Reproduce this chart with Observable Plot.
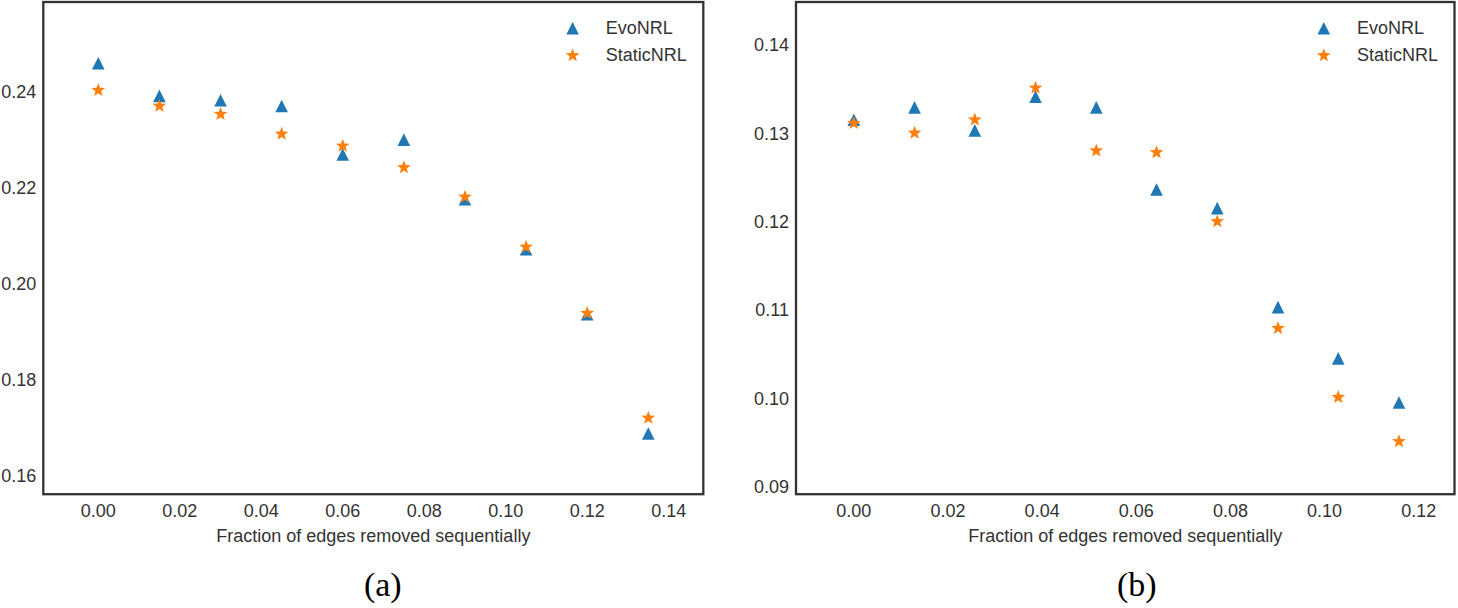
<!DOCTYPE html>
<html>
<head>
<meta charset="utf-8">
<script src="https://cdn.jsdelivr.net/npm/d3@7"></script>
<script src="https://cdn.jsdelivr.net/npm/@observablehq/plot@0.6"></script>
<style>
  html, body { margin: 0; padding: 0; background: #fff; }
  #wrap { position: relative; width: 1458px; height: 608px; overflow: hidden; }
  #wrap > div { position: absolute; top: 0; }
  svg { display: block; }
</style>
</head>
<body>
<div id="wrap"><div id="pa"></div><div id="pb"></div></div>
<script>
// ---- data ----
const seriesNames = ["EvoNRL", "StaticNRL"];
const seriesColors = ["#1f77b4", "#ff7f0e"];
const xLabel = "Fraction of edges removed sequentially";

// panel (a)
const xA = [0, 0.015, 0.03, 0.045, 0.06, 0.075, 0.09, 0.105, 0.12, 0.135];
const evoA = [0.2460, 0.2392, 0.2383, 0.2371, 0.2270, 0.2301, 0.2177, 0.2073, 0.1938, 0.1690];
const staticA = [0.2404, 0.2371, 0.2354, 0.2313, 0.2288, 0.2243, 0.2182, 0.2078, 0.1940, 0.1722];
const xTicksA = [0, 0.02, 0.04, 0.06, 0.08, 0.10, 0.12, 0.14];
const yTicksA = [0.16, 0.18, 0.20, 0.22, 0.24];

// panel (b)
const xB = [0, 0.0129, 0.0257, 0.0386, 0.0515, 0.0643, 0.0772, 0.0901, 0.1029, 0.1158];
const evoB = [0.1316, 0.1330, 0.1304, 0.1342, 0.1330, 0.1237, 0.1216, 0.1104, 0.1046, 0.0996];
const staticB = [0.1312, 0.1301, 0.1316, 0.1352, 0.1281, 0.1279, 0.1201, 0.1080, 0.1002, 0.0952];
const xTicksB = [0, 0.02, 0.04, 0.06, 0.08, 0.10, 0.12];
const yTicksB = [0.09, 0.10, 0.11, 0.12, 0.13, 0.14];

// ---- matplotlib-like marker shapes ----
const triangleUp = {
  draw(ctx, size) {
    const h = Math.sqrt(size / Math.PI);
    ctx.moveTo(0, -h); ctx.lineTo(-h, h); ctx.lineTo(h, h); ctx.closePath();
  }
};
const star5 = {
  draw(ctx, size) {
    const R = Math.sqrt(size / Math.PI), r = R * 0.42;
    for (let i = 0; i < 10; i++) {
      const a = -Math.PI / 2 + i * Math.PI / 5;
      const rr = i % 2 ? r : R;
      const px = rr * Math.cos(a), py = rr * Math.sin(a);
      if (i === 0) ctx.moveTo(px, py); else ctx.lineTo(px, py);
    }
    ctx.closePath();
  }
};
const symbols = [triangleUp, star5];
const radii = [6.3, 7.2];

const TEXT = "#333";
const FONT = "'Liberation Sans', Arial, sans-serif";

function panel(xs, evo, stat, cfg) {
  const rows = [evo, stat].map((vals, s) => xs.map((x, i) => ({x, y: vals[i], s})));
  const marks = [];
  rows.forEach((r, s) => marks.push(Plot.dot(r, {x: "x", y: "y", symbol: symbols[s], r: radii[s], fill: seriesColors[s], stroke: null})));
  // legend
  seriesNames.forEach((name, s) => {
    const dy = cfg.legendDy[s];
    marks.push(Plot.dot([name], {frameAnchor: "top-right", dx: -130.7, dy, symbol: symbols[s], r: radii[s], fill: seriesColors[s]}));
    marks.push(Plot.text([name], {frameAnchor: "top-right", text: d => d, textAnchor: "start", lineAnchor: "middle", dx: -97.5, dy: dy + 0.2, fontSize: 18, fill: TEXT}));
  });
  // x label and caption
  marks.push(Plot.text([xLabel], {frameAnchor: "bottom", text: d => d, lineAnchor: "middle", dy: 42, fontSize: 18, fill: TEXT}));
  marks.push(Plot.text([cfg.caption], {frameAnchor: "bottom", text: d => d, lineAnchor: "middle", dx: cfg.capDx, dy: 91, fontSize: 34, fill: "#000", fontFamily: "'Liberation Serif', 'Times New Roman', serif"}));
  marks.push(Plot.frame({stroke: "#333", strokeWidth: 2.3}));
  return Plot.plot({
    width: cfg.width,
    height: 608,
    marginLeft: cfg.ml,
    marginRight: cfg.mr,
    marginTop: 1.5,
    marginBottom: 608 - 493.7,
    style: {fontSize: "18px", fontFamily: FONT, color: TEXT, background: "transparent"},
    x: {domain: cfg.xd, ticks: cfg.xt, tickSize: 0, tickPadding: 10, tickFormat: d => d.toFixed(2), label: null},
    y: {domain: cfg.yd, ticks: cfg.yt, tickSize: 0, tickPadding: 7, tickFormat: d => d.toFixed(2), label: null},
    marks
  });
}

const a = panel(xA, evoA, staticA, {
  width: 715, ml: 42.8, mr: 715 - 702.8,
  xd: [-0.0135, 0.1485], yd: [0.15636, 0.25873],
  xt: xTicksA, yt: yTicksA, legendDy: [26.2, 53.5], caption: "(a)", capDx: 9.5
});
const b = panel(xB, evoB, staticB, {
  width: 738, ml: 75.5, mr: 738 - 734,
  xd: [-0.01228, 0.12759], yd: [0.08923, 0.14492],
  xt: xTicksB, yt: yTicksB, legendDy: [26.2, 53.5], caption: "(b)", capDx: 11.5
});
const pa = document.getElementById("pa");
pa.style.left = "0px"; pa.appendChild(a);
const pb = document.getElementById("pb");
pb.style.left = "720px"; pb.appendChild(b);
</script>
</body>
</html>
